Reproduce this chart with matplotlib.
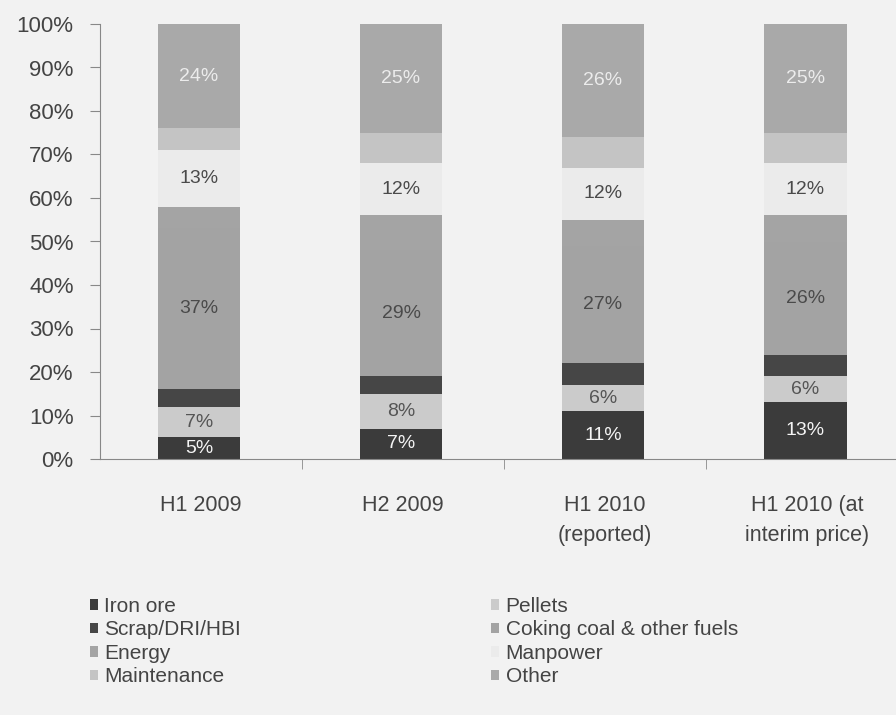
import matplotlib.pyplot as plt
import numpy as np
from matplotlib.patches import Patch

plt.rcParams["font.family"] = ["Liberation Sans", "DejaVu Sans"]

periods = ["H1 2009", "H2 2009", "H1 2010\n(reported)", "H1 2010 (at\ninterim price)"]

iron_ore = [5, 7, 11, 13]
pellets = [7, 8, 6, 6]
scrap = [4, 4, 5, 5]
coking_coal = [37, 29, 27, 26]
energy = [5, 8, 6, 6]
manpower = [13, 12, 12, 12]
maintenance = [5, 7, 7, 7]
other = [24, 25, 26, 25]

series = [
    ("Iron ore", iron_ore, "#3b3b3b", True, "#f4f4f4"),
    ("Pellets", pellets, "#cbcbcb", True, "#555555"),
    ("Scrap/DRI/HBI", scrap, "#464646", False, None),
    ("Coking coal & other fuels", coking_coal, "#a3a3a3", True, "#4a4a4a"),
    ("Energy", energy, "#a4a4a4", False, None),
    ("Manpower", manpower, "#ebebeb", True, "#4a4a4a"),
    ("Maintenance", maintenance, "#c4c4c4", False, None),
    ("Other", other, "#a9a9a9", True, "#ececec"),
]

bg = "#f2f2f2"
fig = plt.figure(figsize=(8.96, 7.15), dpi=100, facecolor=bg)
ax = fig.add_axes([100 / 896, 1 - 459 / 715, 796 / 896, 435 / 715])
ax.set_facecolor(bg)

x = np.arange(len(periods))
bottom = np.zeros(len(periods))
handles = {}
for name, vals, color, show_label, text_color in series:
    vals = np.array(vals, dtype=float)
    ax.bar(x - 0.01, vals, width=0.41, bottom=bottom, color=color, edgecolor="none")
    if show_label:
        for xi, b, v in zip(x, bottom, vals):
            ax.text(xi - 0.01, b + v / 2, f"{int(v)}%", ha="center", va="center",
                    fontsize=14, color=text_color)
    handles[name] = Patch(facecolor=color, edgecolor="none", label=name)
    bottom += vals

ax.set_xlim(-0.5, 3.44)
ax.set_ylim(0, 100)
ax.set_yticks(np.arange(0, 101, 10))
ax.set_yticklabels([f"{v}%" for v in range(0, 101, 10)], fontsize=16, color="#444444")
ax.set_xticks(x)
ax.set_xticklabels(periods, fontsize=15.5, color="#444444", linespacing=1.55)
ax.tick_params(axis="x", length=0, pad=26)
ax.set_xticks([0.5, 1.5, 2.5], minor=True)
ax.tick_params(axis="x", which="minor", length=7, color="#888888")
ax.tick_params(axis="y", length=7, color="#888888", pad=12)

for side in ["top", "right"]:
    ax.spines[side].set_visible(False)
ax.spines["left"].set_color("#888888")
ax.spines["bottom"].set_color("#888888")

order = ["Iron ore", "Scrap/DRI/HBI", "Energy", "Maintenance",
         "Pellets", "Coking coal & other fuels", "Manpower", "Other"]
fig.legend(handles=[handles[n] for n in order], ncol=2, loc="upper left",
           bbox_to_anchor=(71 / 896, 1 - 578 / 715), frameon=False,
           fontsize=15, handlelength=0.4, handleheight=0.4, handletextpad=0.3,
           columnspacing=12.0, labelspacing=0.22, labelcolor="#444444")

fig.savefig("out.png", dpi=100, facecolor=bg)
